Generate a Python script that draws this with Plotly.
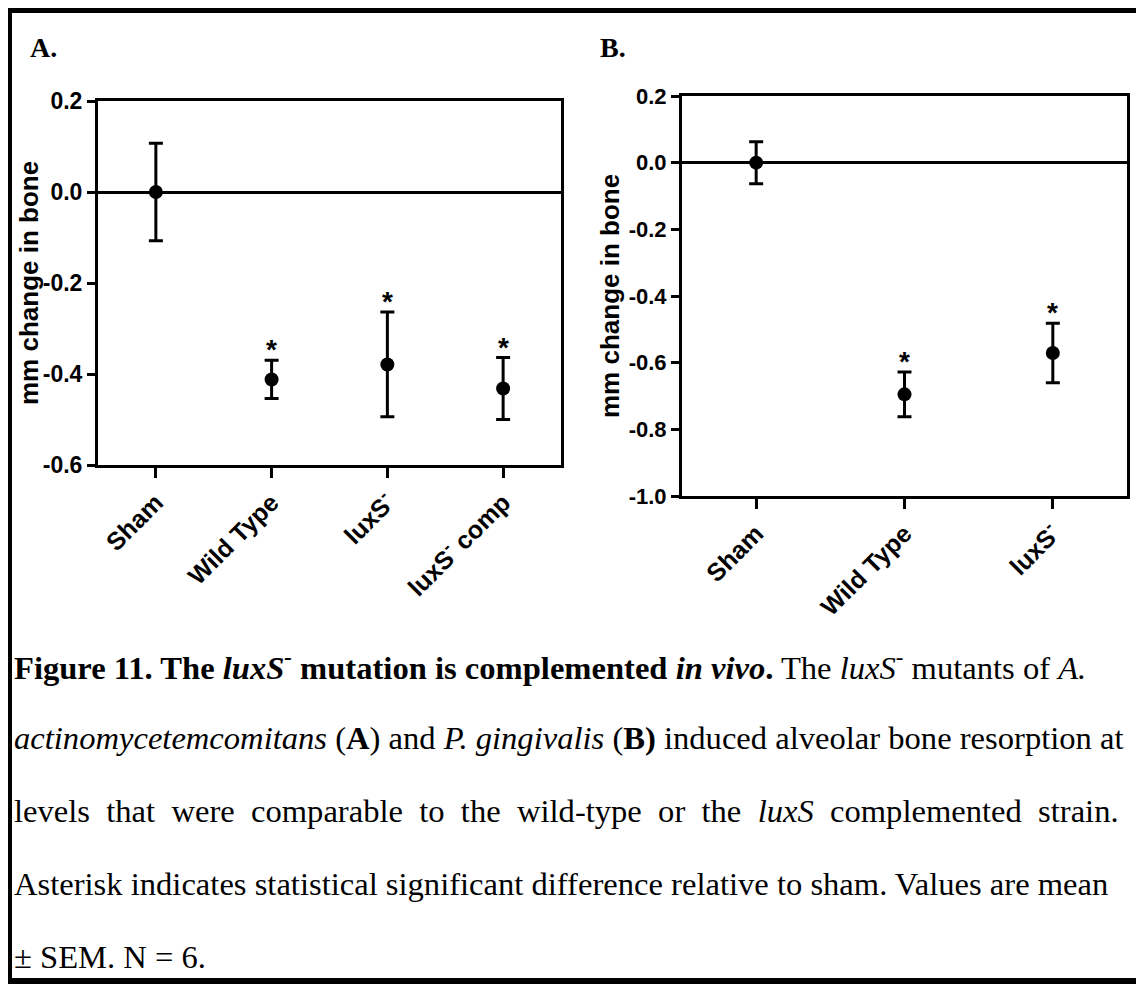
import plotly.graph_objects as go

W, H = 1144, 984
OFF = 8  # page body margin of the html page

# ---------------- data ----------------
cats_a = ["Sham", "Wild Type", "luxS<sup>-</sup>", "luxS<sup>-</sup> comp"]
mean_a = [0.0, -0.412, -0.379, -0.432]
sem_a = [0.107, 0.042, 0.115, 0.068]
sig_a = [False, True, True, True]

cats_b = ["Sham", "Wild Type", "luxS<sup>-</sup>"]
mean_b = [0.0, -0.695, -0.571]
sem_b = [0.063, 0.067, 0.089]
sig_b = [False, True, True]

yticks_a = [0.2, 0.0, -0.2, -0.4, -0.6]
yticks_b = [0.2, 0.0, -0.2, -0.4, -0.6, -0.8, -1.0]

caption_lines = [
    "<b>Figure 11. The <i>luxS<sup>-</sup></i> mutation is complemented <i>in vivo</i>.</b> The <i>luxS<sup>-</sup></i> mutants of <i>A.</i>",
    "<i>actinomycetemcomitans</i> (<b>A</b>) and <i>P. gingivalis</i> (<b>B)</b> induced alveolar bone resorption at",
    "levels  that  were  comparable  to  the  wild-type  or  the  <i>luxS</i>  complemented  strain.",
    "Asterisk indicates statistical significant difference relative to sham. Values are mean",
    "± SEM. N = 6.",
]

# ---------------- helpers (page pixel -> paper) ----------------
def PX(x):
    return (x - OFF) / W

def PY(y):
    return 1 - (y - OFF) / H

SANS = "Liberation Sans, Arial, sans-serif"
SERIF = "Liberation Serif, Times New Roman, serif"

fig = go.Figure()

marker = dict(color="black", size=14, symbol="circle")
err_style = dict(type="data", visible=True, color="black", thickness=3, width=7)

fig.add_trace(go.Scatter(
    x=cats_a, y=mean_a, mode="markers", marker=marker,
    error_y=dict(array=sem_a, **err_style), xaxis="x", yaxis="y", showlegend=False,
))
fig.add_trace(go.Scatter(
    x=cats_b, y=mean_b, mode="markers", marker=marker,
    error_y=dict(array=sem_b, **err_style), xaxis="x2", yaxis="y2", showlegend=False,
))

annotations = []
for cats, means, sems, sig, xr, yr in [
    (cats_a, mean_a, sem_a, sig_a, "x", "y"),
    (cats_b, mean_b, sem_b, sig_b, "x2", "y2"),
]:
    for c, m, s, g in zip(cats, means, sems, sig):
        if g:
            annotations.append(dict(
                x=c, y=m + s, xref=xr, yref=yr, text="*", showarrow=False,
                yanchor="bottom", yshift=-7,
                font=dict(family=SANS, size=28, color="black", weight="bold"),
            ))

# axis titles
for xpx, ypx in [(29, 283), (610, 296)]:
    annotations.append(dict(
        x=PX(xpx), y=PY(ypx), xref="paper", yref="paper", text="mm change in bone",
        textangle=-90, showarrow=False, xanchor="center", yanchor="middle",
        font=dict(family=SANS, size=26, color="black", weight="bold"),
    ))

# panel labels
for xpx, lab in [(28, "A."), (598, "B.")]:
    annotations.append(dict(
        x=PX(xpx), y=PY(47), xref="paper", yref="paper", text="<b>%s</b>" % lab,
        showarrow=False, xanchor="left", yanchor="middle",
        font=dict(family=SERIF, size=28, color="black"),
    ))

# caption
baselines = [677, 750, 823, 896, 969]
for line, b in zip(caption_lines, baselines):
    annotations.append(dict(
        x=PX(12), y=PY(b - 12), xref="paper", yref="paper", text=line,
        showarrow=False, xanchor="left", yanchor="middle", align="left",
        font=dict(family=SERIF, size=32.6, color="black"),
    ))

axis_common = dict(
    showline=True, linewidth=3, linecolor="black", mirror=True,
    showgrid=False, ticks="outside", tickwidth=2.5, tickcolor="black",
)

fig.update_layout(
    width=W, height=H,
    margin=dict(l=0, r=0, t=0, b=0),
    paper_bgcolor="white", plot_bgcolor="white",
    template="none",
    showlegend=False,
    xaxis=dict(
        domain=[PX(98), PX(561)], anchor="y", type="category",
        categoryorder="array", categoryarray=cats_a, range=[-0.5, 3.5],
        tickangle=-45, ticklen=10, zeroline=False,
        tickfont=dict(family=SANS, size=25, color="black", weight="bold"),
        **axis_common,
    ),
    yaxis=dict(
        domain=[PY(465), PY(101)], anchor="x", range=[-0.6, 0.2],
        tickmode="array", tickvals=yticks_a, ticktext=["%.1f" % v for v in yticks_a],
        ticklen=8,
        zeroline=True, zerolinecolor="black", zerolinewidth=3,
        tickfont=dict(family=SANS, size=23, color="black", weight="bold"),
        **axis_common,
    ),
    xaxis2=dict(
        domain=[PX(682), PX(1127)], anchor="y2", type="category",
        categoryorder="array", categoryarray=cats_b, range=[-0.5, 2.5],
        tickangle=-45, ticklen=10, zeroline=False,
        tickfont=dict(family=SANS, size=25, color="black", weight="bold"),
        **axis_common,
    ),
    yaxis2=dict(
        domain=[PY(496), PY(96)], anchor="x2", range=[-1.0, 0.2],
        tickmode="array", tickvals=yticks_b, ticktext=["%.1f" % v for v in yticks_b],
        ticklen=8,
        zeroline=True, zerolinecolor="black", zerolinewidth=3,
        tickfont=dict(family=SANS, size=22, color="black", weight="bold"),
        **axis_common,
    ),
    annotations=annotations,
    shapes=[
        dict(type="line", xref="paper", yref="paper", x0=PX(4), x1=PX(1160), y0=PY(9), y1=PY(9),
             line=dict(color="black", width=8)),
        dict(type="line", xref="paper", yref="paper", x0=PX(8), x1=PX(8), y0=PY(5), y1=PY(1000),
             line=dict(color="black", width=8)),
        dict(type="line", xref="paper", yref="paper", x0=PX(4), x1=PX(1160), y0=PY(981), y1=PY(981),
             line=dict(color="black", width=6)),
    ],
)

fig.write_html("out.html")
